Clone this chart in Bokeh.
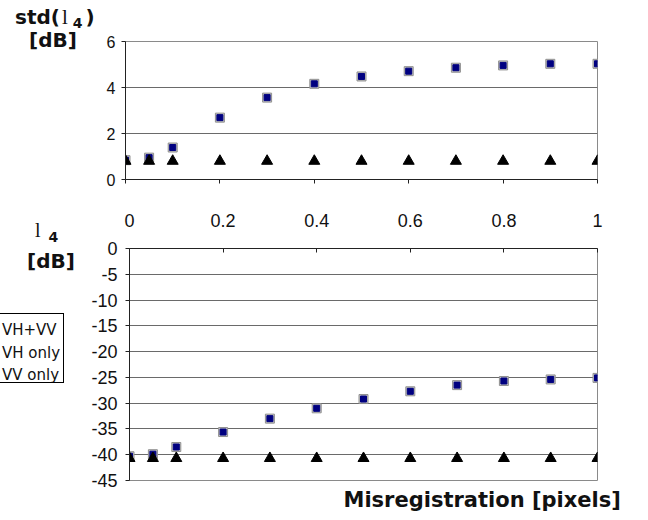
from bokeh.plotting import figure
from bokeh.layouts import column, row
from bokeh.models import Title, Div, FixedTicker, ColumnDataSource
from bokeh.embed import file_html
from bokeh.resources import INLINE

# Misregistration [pixels]
misreg = [0, 0.05, 0.1, 0.2, 0.3, 0.4, 0.5, 0.6, 0.7, 0.8, 0.9, 1.0]
# std(l4) [dB]
std_vhvv = [0.84, 0.95, 1.39, 2.69, 3.56, 4.16, 4.48, 4.71, 4.86, 4.96, 5.03, 5.03]
std_vh = [0.84, 0.95, 1.39, 2.69, 3.56, 4.16, 4.48, 4.71, 4.86, 4.96, 5.03, 5.03]
std_vv = [0.8, 0.8, 0.8, 0.8, 0.8, 0.8, 0.8, 0.8, 0.8, 0.8, 0.8, 0.8]
# l4 [dB]
l4_vhvv = [-40.3, -39.9, -38.5, -35.6, -33.0, -31.0, -29.2, -27.7, -26.5, -25.7, -25.4, -25.1]
l4_vh = [-40.3, -39.9, -38.5, -35.6, -33.0, -31.0, -29.2, -27.7, -26.5, -25.7, -25.4, -25.1]
l4_vv = [-40.7, -40.7, -40.7, -40.7, -40.7, -40.7, -40.7, -40.7, -40.7, -40.7, -40.7, -40.7]

x_ticks = [0, 0.2, 0.4, 0.6, 0.8, 1.0]
top_y_ticks = [0, 2, 4, 6]
bot_y_ticks = [0, -5, -10, -15, -20, -25, -30, -35, -40, -45]
series_names = ["VH+VV", "VH only", "VV only"]
x_title = "Misregistration [pixels]"

TICK_FONT = "Liberation Sans"
BOLD_FONT = "DejaVu Sans"
GRID = "#6a6a6a"
TXT = "#111111"


def style_y(ax, ticks, size, standoff):
    ax.ticker = FixedTicker(ticks=ticks)
    ax.major_tick_out = 4
    ax.major_tick_in = 0
    ax.minor_tick_line_color = None
    ax.major_label_text_font = TICK_FONT
    ax.major_label_text_font_size = size
    ax.major_label_text_color = TXT
    ax.major_label_standoff = standoff
    ax.axis_line_color = "#222222"
    ax.major_tick_line_color = "#222222"


# ---------------- top chart ----------------
top = figure(width=548, height=195, x_range=(0, 1), y_range=(0, 6),
             output_backend="svg", toolbar_location=None,
             min_border_left=25, min_border_right=51,
             min_border_top=41, min_border_bottom=16)
top.outline_line_color = "#8a8a8a"
top.xgrid.grid_line_color = None
top.ygrid.grid_line_color = GRID
top.ygrid.ticker = FixedTicker(ticks=top_y_ticks)
top.xaxis.ticker = FixedTicker(ticks=x_ticks)
top.xaxis.major_label_text_font_size = "1px"
top.xaxis.major_label_text_color = None
top.xaxis.major_label_standoff = 0
top.xaxis.major_tick_out = 4
top.xaxis.major_tick_in = 0
top.xaxis.minor_tick_line_color = None
top.xaxis.axis_line_color = "#222222"
top.xaxis.major_tick_line_color = "#222222"
style_y(top.yaxis, top_y_ticks, "16px", 6)

ts = ColumnDataSource(dict(x=misreg, a=std_vhvv, b=std_vh, c=std_vv))
top.scatter("x", "a", source=ts, marker="square", size=9,
            fill_color="#c4c4c4", line_color="#909090")
top.scatter("x", "b", source=ts, marker="square", size=6,
            fill_color="#000080", line_color="#000080")
top.scatter("x", "c", source=ts, marker="triangle", size=11,
            fill_color="black", line_color="black")

BOLD = "font-family: DejaVu Sans; font-weight: bold;"
SERIF = "font-family: Liberation Serif; font-weight: normal;"
ABS = "position: absolute; white-space: nowrap; margin: 0; padding: 0;"

top_title_html = (
    '<div style="position: relative; width: 100px; height: 195px; color: #111111;">'
    '<div style="' + ABS + ' left: 15px; top: 7px; ' + BOLD +
    ' font-size: 20px; line-height: 20px;">std('
    '<span style="' + SERIF + ' font-size: 21px; margin-left: 2px;">l</span>'
    '<span style="font-size: 14px; position: relative; top: 4px; margin-left: 5px;">4</span>'
    '<span style="margin-left: 3px;">)</span></div>'
    '<div style="' + ABS + ' left: 29px; top: 30px; ' + BOLD +
    ' font-size: 20px; line-height: 20px;">[dB]</div>'
    '</div>'
)
tl = Div(text=top_title_html, width=100, height=195, margin=0)

# ---------------- bottom chart ----------------
bot = figure(width=562, height=325, x_range=(0, 1), y_range=(-45, 0),
             output_backend="svg", toolbar_location=None,
             x_axis_location="above",
             min_border_left=43, min_border_right=51,
             min_border_top=53, min_border_bottom=40)
bot.outline_line_color = "#8a8a8a"
bot.xgrid.grid_line_color = None
bot.ygrid.grid_line_color = GRID
bot.ygrid.ticker = FixedTicker(ticks=bot_y_ticks)
bot.xaxis.ticker = FixedTicker(ticks=x_ticks)
bot.xaxis.major_label_overrides = {0: "0", 1.0: "1"}
bot.xaxis.major_tick_in = 4
bot.xaxis.major_tick_out = 0
bot.xaxis.minor_tick_line_color = None
bot.xaxis.major_label_text_font = TICK_FONT
bot.xaxis.major_label_text_font_size = "18px"
bot.xaxis.major_label_text_color = TXT
bot.xaxis.major_label_standoff = 22
bot.xaxis.axis_line_color = "#222222"
bot.xaxis.major_tick_line_color = "#222222"
style_y(bot.yaxis, bot_y_ticks, "18px", 8)
bot.yaxis.major_label_overrides = {t: str(t) for t in bot_y_ticks}

bs = ColumnDataSource(dict(x=misreg, a=l4_vhvv, b=l4_vh, c=l4_vv))
bot.scatter("x", "a", source=bs, marker="square", size=9,
            fill_color="#c4c4c4", line_color="#909090")
bot.scatter("x", "b", source=bs, marker="square", size=6,
            fill_color="#000080", line_color="#000080")
bot.scatter("x", "c", source=bs, marker="triangle", size=11,
            fill_color="black", line_color="black")

bot.add_layout(Title(text=x_title, align="left", offset=214,
                     text_font=BOLD_FONT, text_font_size="21px",
                     text_font_style="bold", text_color=TXT, standoff=11), "below")

legend_rows = "".join(
    '<div style="' + ABS + ' left: 3px; top: %.1fpx; font-family: DejaVu Sans; '
    'font-size: 15px; line-height: 15px;">%s</div>' % (9 + 22.5 * i, name)
    for i, name in enumerate(series_names)
)
bot_title_html = (
    '<div style="position: relative; width: 86px; height: 325px; color: #111111;">'
    '<div style="' + ABS + ' left: 35px; top: 25px; ' + SERIF +
    ' font-size: 20px; line-height: 20px;">l'
    '<span style="' + BOLD + ' font-size: 14px; position: relative; top: 5px; margin-left: 8px;">4</span></div>'
    '<div style="' + ABS + ' left: 27px; top: 56px; ' + BOLD +
    ' font-size: 20px; line-height: 20px;">[dB]</div>'
    '<div style="position: absolute; box-sizing: border-box; left: -2px; top: 118px; '
    'width: 66px; height: 70px; border: 1px solid #000000; background: #ffffff; '
    'overflow: hidden;">' + legend_rows + '</div>'
    '</div>'
)
bl = Div(text=bot_title_html, width=86, height=325, margin=0)

layout = column(row(tl, top, spacing=0), row(bl, bot, spacing=0), spacing=0)
open("out.html", "w").write(file_html(layout, INLINE))
